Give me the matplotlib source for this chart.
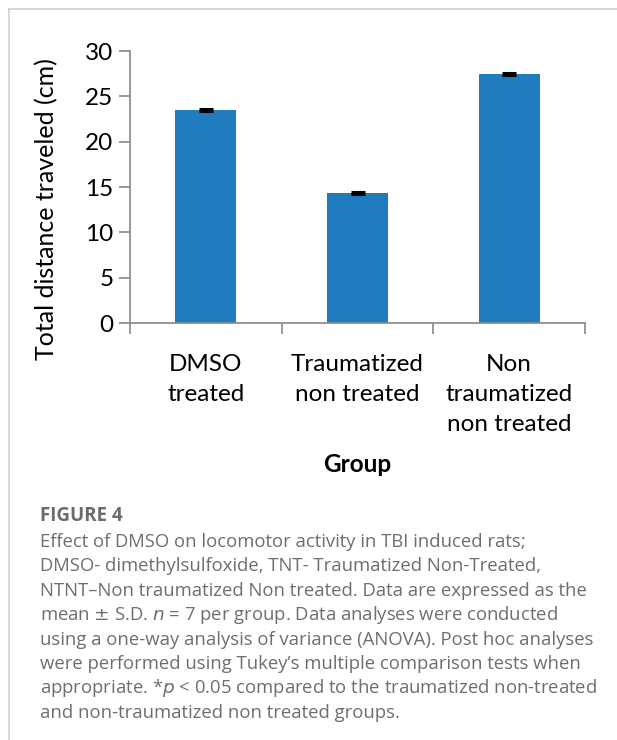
import matplotlib.pyplot as plt
from matplotlib.lines import Line2D

groups = ["DMSO\ntreated", "Traumatized\nnon treated", "Non\ntraumatized\nnon treated"]
distance_mean = [23.5, 14.3, 27.5]
distance_sd = [0.12, 0.12, 0.12]
yticks = [0, 5, 10, 15, 20, 25, 30]

caption_title = "FIGURE 4"
caption_lines = [
    "Effect of DMSO on locomotor activity in TBI induced rats;",
    "DMSO- dimethylsulfoxide, TNT- Traumatized Non-Treated,",
    "NTNT\u2013Non traumatized Non treated. Data are expressed as the",
    "mean $\\pm$ S.D. $n$ = 7 per group. Data analyses were conducted",
    "using a one-way analysis of variance (ANOVA). Post hoc analyses",
    "were performed using Tukey\u2019s multiple comparison tests when",
    "appropriate. *$p$ < 0.05 compared to the traumatized non-treated",
    "and non-traumatized non treated groups.",
]

W, H = 617, 740
fig = plt.figure(figsize=(W / 100, H / 100), dpi=100)

# frame lines at top and left
fig.add_artist(Line2D([9 / W, 1], [1 - 9 / H, 1 - 9 / H], color="#cfcfcf", lw=1.2))
fig.add_artist(Line2D([9 / W, 9 / W], [0, 1 - 9 / H], color="#cfcfcf", lw=1.2))

ax = fig.add_axes([130 / W, 1 - 323 / H, 455 / W, 272 / H])
x = range(len(groups))
ax.bar(x, distance_mean, width=0.4, color="#1f7cbe", zorder=2)
ax.errorbar(x, distance_mean, yerr=distance_sd, fmt="none", ecolor="black",
            capsize=5, capthick=2.2, elinewidth=1, zorder=3)

ax.set_xlim(-0.5, 2.5)
ax.set_ylim(0, 30)
ax.set_yticks(yticks)
ax.set_xticks(list(x))
ax.set_xticklabels(groups, fontsize=17.5, linespacing=1.55, family="Lato")
ax.set_xticks([-0.5, 0.5, 1.5, 2.5], minor=True)
ax.tick_params(axis="x", which="major", length=0, pad=22)
ax.tick_params(axis="x", which="minor", length=8, width=1.2, color="#888888", direction="out")
ax.tick_params(axis="y", length=8, width=1.2, color="#888888", labelsize=17.5, pad=4)
for lbl in ax.get_yticklabels():
    lbl.set_family("Lato")

for side in ["top", "right"]:
    ax.spines[side].set_visible(False)
for side in ["left", "bottom"]:
    ax.spines[side].set_color("#888888")
    ax.spines[side].set_linewidth(1.2)

ax.set_ylabel("Total distance traveled (cm)", fontsize=18, family="Lato")
ax.yaxis.set_label_coords(-0.158, 0.42)
fig.text(0.5 * (130 + 585) / W, 1 - 465 / H, "Group", fontsize=17.5, fontweight="bold",
         family="Lato", ha="center", va="center")

# caption
fig.text(40 / W, 1 - 516 / H, caption_title, fontsize=13.5, fontweight="bold",
         color="#6b6b6b", family="Open Sans", va="center")
for i, line in enumerate(caption_lines):
    fig.text(40 / W, 1 - (542 + i * 24.4) / H, line, fontsize=13.3, color="#6e6e6e",
             family="Open Sans", va="center")

fig.savefig("out.png", dpi=100)
